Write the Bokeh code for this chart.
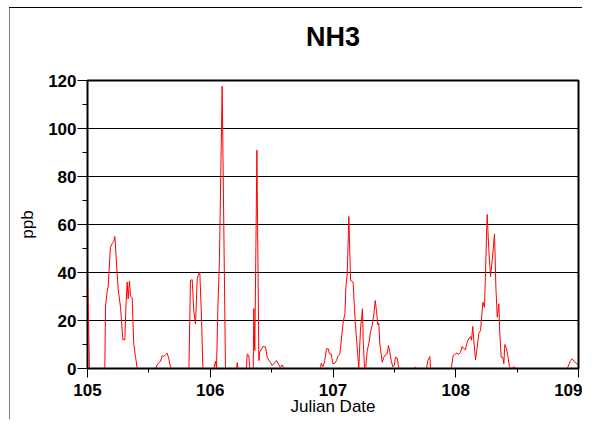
from bokeh.plotting import figure
from bokeh.models import Range1d, FixedTicker, Title
from bokeh.embed import file_html
from bokeh.resources import INLINE

title_text = "NH3"
x_label = "Julian Date"
y_label = "ppb"
x_ticks = [105, 106, 107, 108, 109]
x_minor = [105.5, 106.5, 107.5, 108.5]
y_ticks = [0, 20, 40, 60, 80, 100, 120]
y_minor = [10, 30, 50, 70, 90, 110]

julian_date = [
    105.000, 105.016, 105.141, 105.147, 105.160, 105.168, 105.187, 105.201, 105.214, 105.223,
    105.242, 105.250, 105.269, 105.288, 105.304, 105.315, 105.323, 105.331, 105.342, 105.350,
    105.364, 105.377, 105.391, 105.405, 105.554, 105.568, 105.581, 105.595, 105.609, 105.622,
    105.635, 105.649, 105.663, 105.676, 105.690, 105.826, 105.839, 105.853, 105.866, 105.880,
    105.894, 105.907, 105.915, 105.929, 105.940, 106.029, 106.043, 106.051, 106.062, 106.075,
    106.097, 106.124, 106.215, 106.220, 106.226, 106.295, 106.301, 106.314, 106.322, 106.350,
    106.355, 106.363, 106.380, 106.392, 106.396, 106.403, 106.430, 106.450, 106.464, 106.477,
    106.491, 106.505, 106.518, 106.540, 106.559, 106.570, 106.586, 106.600, 106.898, 106.904,
    106.918, 106.931, 106.947, 106.961, 106.971, 106.985, 106.999, 107.015, 107.029, 107.042,
    107.056, 107.083, 107.097, 107.105, 107.116, 107.129, 107.143, 107.156, 107.164, 107.175,
    107.183, 107.197, 107.210, 107.224, 107.232, 107.240, 107.246, 107.257, 107.267, 107.279,
    107.292, 107.305, 107.319, 107.333, 107.344, 107.354, 107.365, 107.373, 107.381, 107.401,
    107.414, 107.428, 107.441, 107.452, 107.463, 107.474, 107.487, 107.500, 107.509, 107.523,
    107.536, 107.665, 107.672, 107.680, 107.762, 107.773, 107.789, 107.795, 107.963, 107.979,
    107.998, 108.011, 108.022, 108.039, 108.052, 108.066, 108.079, 108.093, 108.107, 108.120,
    108.128, 108.139, 108.147, 108.161, 108.175, 108.188, 108.202, 108.210, 108.221, 108.234,
    108.242, 108.256, 108.269, 108.283, 108.297, 108.316, 108.327, 108.338, 108.351, 108.359,
    108.370, 108.383, 108.392, 108.400, 108.414, 108.424, 108.438, 108.450, 108.478, 108.489,
    108.908, 108.935, 108.949, 108.967, 108.989, 109.000,
]
nh3_ppb = [
    40, 0, 0, 26, 32, 34, 50.5, 52, 53, 55,
    39, 33, 25.5, 12, 12, 28, 36, 29, 36.5, 30,
    29.5, 10, 5, 0, 0, 1.5, 2.4, 3, 5.4, 5,
    5.7, 6.4, 4, 0.5, 0, 0, 36.7, 37, 24, 18.6,
    37.5, 39.4, 40, 21, 0, 0, 3, 0, 25, 45.7,
    117.6, 0, 0, 2.4, 0, 0, 6, 5.5, 0, 0,
    25, 7.5, 91, 26, 3.3, 6.8, 9.2, 9, 4.7, 3.5,
    2.5, 1.2, 2, 3.3, 1.6, 0.5, 1.5, 0, 0, 2.2,
    0.8, 2.6, 8.2, 8.2, 6.1, 6, 2, 2.2, 3.3, 5.4,
    6, 19.3, 22.8, 33.9, 39.4, 63.3, 36.7, 36.3, 36, 24.9,
    17.9, 8.9, 0, 16.5, 20.7, 24.9, 11.7, 0, 0.7, 7.5,
    10.3, 15.1, 17.9, 22.8, 28.3, 24.2, 18.3, 18.9, 10.3, 2.6,
    4.7, 5.8, 6.1, 9.6, 6.8, 3.3, 0.7, 1.4, 4.7, 4.4,
    0, 0, 0.7, 0, 0, 3.3, 5, 0, 0, 5.4,
    6.1, 6.5, 5.8, 6.8, 9.2, 8.2, 7.8, 11, 12.5, 13.3,
    11.8, 17.5, 11.8, 3.6, 8.9, 14.7, 15.8, 20.7, 27.6, 25.5,
    39.4, 64.2, 49.9, 38.3, 45, 56.1, 33.9, 21.4, 27, 14.4,
    4.7, 4.7, 2, 10, 8.2, 5.4, 0.7, 0, 0.7, 0,
    0, 3.3, 4, 2.8, 1.9, 1.3,
]

FONT = "Liberation Sans"

p = figure(width=582, height=419, output_backend="svg", toolbar_location=None,
           x_range=Range1d(105, 109), y_range=Range1d(0, 120),
           min_border_left=87, min_border_right=4, min_border_top=80, min_border_bottom=51,
           background_fill_color="white", border_fill_color=None)
p.title = None

# page frame lines behind the chart (document border)
p.styles = {
    "background-color": "white",
    "background-image": ("linear-gradient(to bottom, transparent 7px, #000 7px, #000 8px, transparent 8px), "
                         "linear-gradient(to right, transparent 9px, #808080 9px, #808080 10px, transparent 10px)"),
    "background-repeat": "no-repeat, no-repeat",
    "background-position": "9px 0px, 0px 7px",
    "background-size": "100% 100%, 100% 100%",
}

# spacer (closest to the frame) pushes the real title up
p.add_layout(Title(text=" ", text_font_size="1px", standoff=26), "above")
p.add_layout(Title(text=title_text, text_font=FONT, text_font_size="27px",
                   text_font_style="bold", align="center", standoff=0,
                   text_color="black"), "above")

p.outline_line_color = "black"
p.outline_line_width = 2

p.line(julian_date, nh3_ppb, line_color="#ff0000", line_width=1)

# axes
p.xaxis.ticker = FixedTicker(ticks=x_ticks, minor_ticks=x_minor)
p.yaxis.ticker = FixedTicker(ticks=y_ticks, minor_ticks=y_minor)
for ax in (p.xaxis, p.yaxis):
    ax.axis_line_color = "black"
    ax.axis_line_width = 1
    ax.major_tick_line_color = "black"
    ax.minor_tick_line_color = "black"
    ax.major_tick_in = 0
    ax.minor_tick_in = 0
    ax.major_label_text_font = FONT
    ax.major_label_text_font_style = "bold"
    ax.major_label_text_font_size = "17px"
    ax.major_label_text_color = "black"
    ax.axis_label_text_font = FONT
    ax.axis_label_text_font_style = "normal"
    ax.axis_label_text_font_size = "17px"
    ax.axis_label_text_color = "black"

p.xaxis.axis_label = x_label
p.xaxis.major_tick_out = 9
p.xaxis.minor_tick_out = 4
p.xaxis.major_label_standoff = 6
p.xaxis.axis_label_standoff = -2

p.yaxis.axis_label = y_label
p.yaxis.major_tick_out = 10
p.yaxis.minor_tick_out = 5
p.yaxis.major_label_standoff = 1
p.yaxis.axis_label_standoff = 8

p.xgrid.grid_line_color = None
p.ygrid.grid_line_color = "black"
p.ygrid.grid_line_width = 1

open("out.html", "w").write(file_html(p, INLINE))
